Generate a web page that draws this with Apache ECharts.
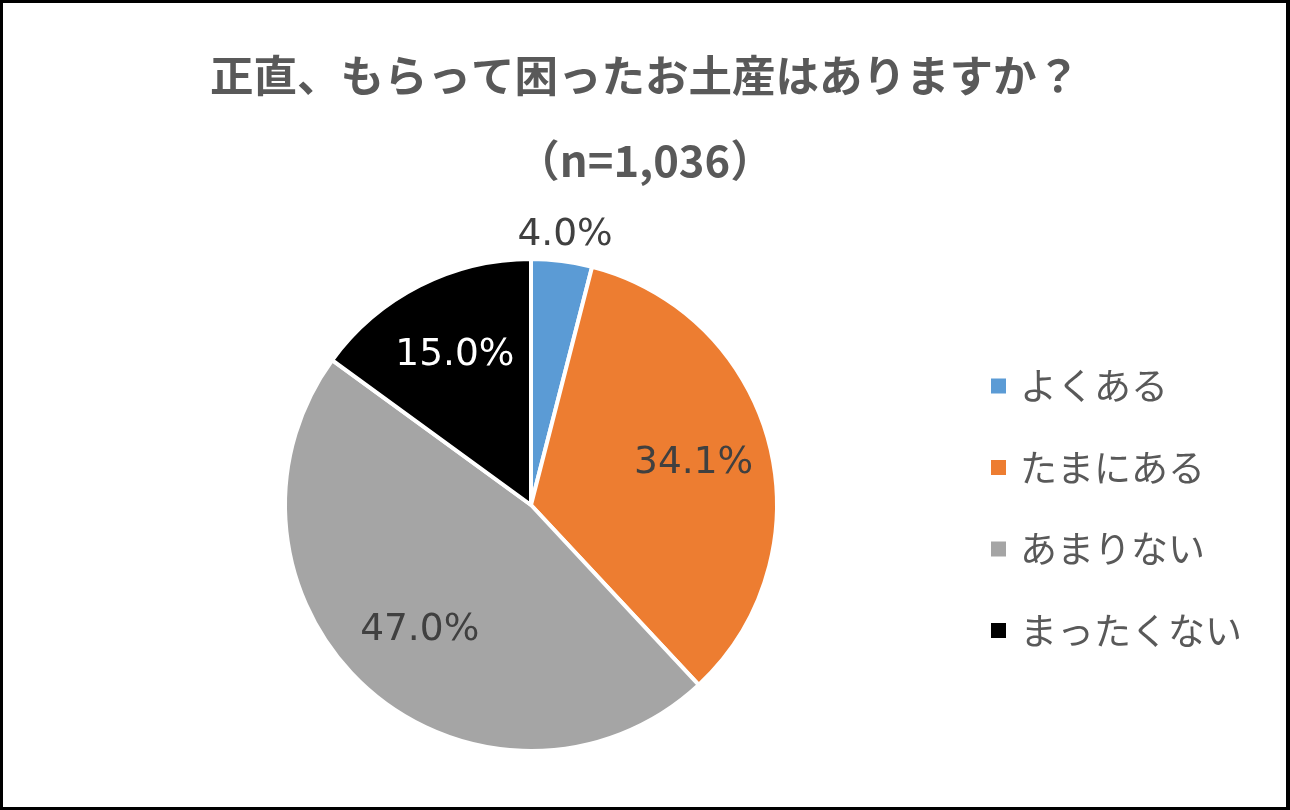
<!DOCTYPE html>
<html>
<head>
<meta charset="utf-8">
<script src="https://cdn.jsdelivr.net/npm/echarts@6/dist/echarts.min.js"></script>
<style>
  html, body { margin: 0; padding: 0; background: #fff; }
  #chart { width: 1290px; height: 810px; }
  #frame { position: absolute; left: 0; top: 0; width: 1290px; height: 810px;
           box-sizing: border-box; border: 3px solid #000; border-right-width: 4px; pointer-events: none; }
</style>
</head>
<body>
<div id="chart"></div>
<div id="frame"></div>
<script>
// data
const titleText = '正直、もらって困ったお土産はありますか？';
const sampleText = '（n=1,036）';
const categories = ['よくある', 'たまにある', 'あまりない', 'まったくない'];
const shares = [4.0, 34.1, 47.0, 15.0];
const colors = ['#5B9BD5', '#ED7D31', '#A5A5A5', '#000000'];
const labelColors = ['#404040', '#404040', '#404040', '#ffffff'];

const jp = '"Noto Sans CJK JP", sans-serif';
const num = '"DejaVu Sans", sans-serif';
const pieCenter = [531, 505];
const pieRadius = 246;

const chart = echarts.init(document.getElementById('chart'), null, { renderer: 'canvas' });

const fmt = p => p.value.toFixed(1) + '%';

// helper pie with no fill, only used to place labels at a given radius
function labelRing(outer, which) {
  return {
    type: 'pie',
    silent: true,
    startAngle: 90,
    clockwise: true,
    center: pieCenter,
    radius: [0, outer],
    avoidLabelOverlap: false,
    emphasis: { disabled: true },
    labelLine: { show: false },
    itemStyle: { color: 'transparent', borderWidth: 0 },
    data: categories.map((c, i) => ({
      name: c,
      value: shares[i],
      label: {
        show: which.includes(i),
        position: 'inside',
        formatter: fmt,
        color: labelColors[i],
        fontFamily: num,
        fontSize: 37.5
      }
    }))
  };
}

chart.setOption({
  backgroundColor: '#fff',
  animation: false,
  title: {
    text: titleText + '\n' + sampleText,
    left: 'center',
    top: 28,
    textStyle: {
      fontFamily: jp,
      fontSize: 43.5,
      fontWeight: 'bold',
      color: '#595959',
      lineHeight: 85
    }
  },
  legend: {
    orient: 'vertical',
    left: 989,
    top: 366,
    padding: 0,
    icon: 'rect',
    itemWidth: 17,
    itemHeight: 17,
    itemGap: 41.5,
    selectedMode: false,
    data: categories.map((c, i) => ({ name: c, itemStyle: { color: colors[i] } })),
    textStyle: {
      fontFamily: jp,
      fontSize: 37,
      color: '#595959',
      lineHeight: 40,
      padding: [0, 0, 0, 8]
    }
  },
  series: [
    {
      type: 'pie',
      startAngle: 90,
      clockwise: true,
      center: pieCenter,
      radius: [0, pieRadius],
      avoidLabelOverlap: false,
      label: { show: false },
      labelLine: { show: false },
      itemStyle: { borderColor: '#fff', borderWidth: 4 },
      data: categories.map((c, i) => ({ name: c, value: shares[i], itemStyle: { color: colors[i] } }))
    },
    labelRing(pieRadius * 1.34, [1, 2, 3]),
    labelRing(538, [0])
  ]
});
</script>
</body>
</html>
